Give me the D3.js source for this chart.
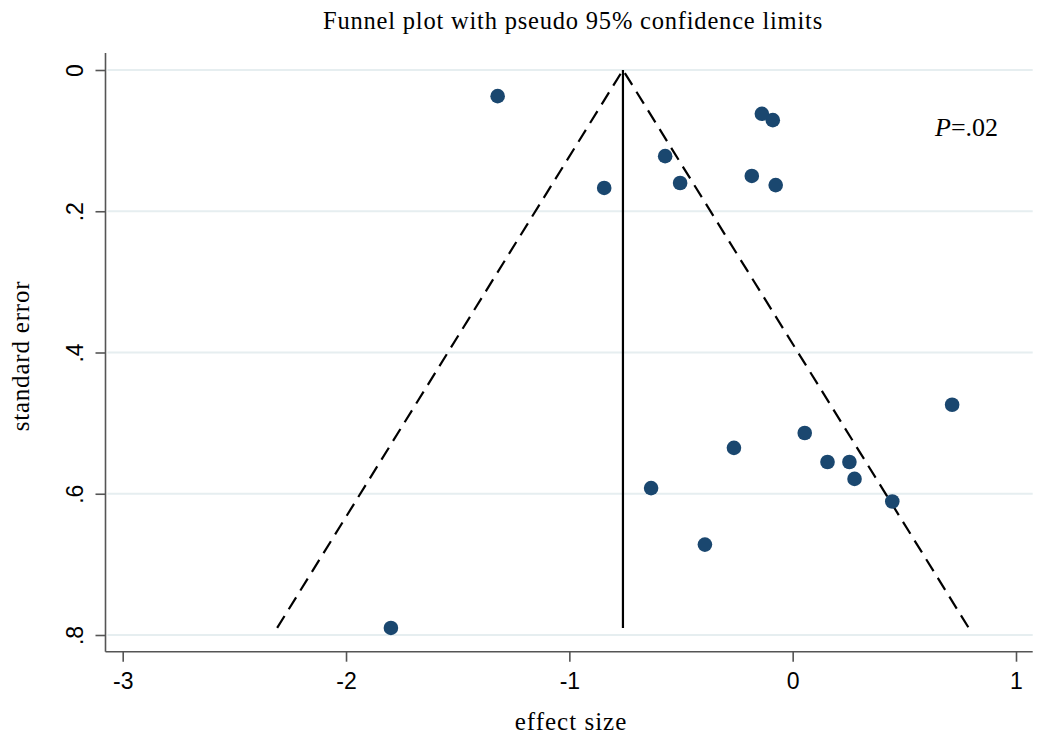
<!DOCTYPE html>
<html><head><meta charset="utf-8">
<script src="https://cdn.jsdelivr.net/npm/d3@7"></script>
<style>body{margin:0;background:#fff;}</style>
</head><body>
<svg id="c" width="1050" height="742"></svg>
<script>
const effectSize = [-1.321,-0.138,-0.089,-0.571,-0.844,-0.504,-0.183,-0.076,0.714,0.054,-0.263,0.156,0.254,0.277,-0.634,0.446,-0.393,-1.799];
const stdError   = [0.037,0.062,0.071,0.122,0.167,0.160,0.150,0.163,0.474,0.514,0.535,0.555,0.555,0.579,0.592,0.611,0.672,0.790];
const pooledEffect = -0.76;
const maxSE = 0.79;
const xTicks = [-3,-2,-1,0,1];
const yTicks = [0,0.2,0.4,0.6,0.8];
const yTickLabels = ["0",".2",".4",".6",".8"];
const title = "Funnel plot with pseudo 95% confidence limits";

const svg = d3.select("#c");
const L=105.5, R=1032.7, T=53, B=651.7;
const x = d3.scaleLinear().domain([-3,1]).range([122.7,1016]);
const y = d3.scaleLinear().domain([0,0.8]).range([70,635]);
const serif = "Liberation Serif, Times New Roman, serif";

// grid
svg.append("g").selectAll("line").data(yTicks).join("line")
  .attr("x1",L+2).attr("x2",R).attr("y1",d=>y(d)).attr("y2",d=>y(d))
  .attr("stroke","#e6eef0").attr("stroke-width",2);

// funnel
const lineGen = d3.line().x(d=>x(d[0])).y(d=>y(d[1]));
const z = 1.96;
svg.append("path").attr("d",lineGen([[pooledEffect - z*maxSE, maxSE],[pooledEffect,0],[pooledEffect + z*maxSE, maxSE]]))
  .attr("fill","none").attr("stroke","#000").attr("stroke-width",2.2).attr("stroke-dasharray","14,8");
svg.append("path").attr("d",lineGen([[pooledEffect,0],[pooledEffect,maxSE]]))
  .attr("fill","none").attr("stroke","#000").attr("stroke-width",2.2);

// points
svg.append("g").selectAll("circle").data(effectSize.map((e,i)=>[e,stdError[i]])).join("circle")
  .attr("cx",d=>x(d[0])).attr("cy",d=>y(d[1])).attr("r",7.3).attr("fill","#1a476f");

// axes
const axC="#555";
svg.append("line").attr("x1",L).attr("x2",L).attr("y1",T).attr("y2",B).attr("stroke",axC).attr("stroke-width",1.6);
svg.append("line").attr("x1",L).attr("x2",R).attr("y1",B).attr("y2",B).attr("stroke",axC).attr("stroke-width",1.6);
const xa = d3.axisBottom(x).tickValues(xTicks).tickSize(10).tickFormat(d3.format("d"));
const gx = svg.append("g").attr("transform",`translate(0,${B})`).call(xa);
gx.select(".domain").remove();
gx.selectAll(".tick line").attr("stroke",axC).attr("stroke-width",1.6);
gx.selectAll(".tick text").attr("font-family","Liberation Sans, Arial, sans-serif").attr("font-size",23).attr("fill","#000").attr("dy","1.05em")
  .text(d=>String(d).replace("\u2212","-"));

const ya = d3.axisLeft(y).tickValues(yTicks).tickSize(10).tickFormat((d,i)=>yTickLabels[i]);
const gy = svg.append("g").attr("transform",`translate(${L},0)`).call(ya);
gy.select(".domain").remove();
gy.selectAll(".tick line").attr("stroke",axC).attr("stroke-width",1.6);
gy.selectAll(".tick text").attr("font-family","Liberation Sans, Arial, sans-serif").attr("font-size",23).attr("fill","#000")
  .attr("x",null).attr("dy",null).attr("text-anchor","middle")
  .attr("transform","translate(-29,0) rotate(-90)").attr("dominant-baseline","middle").attr("y",0);

// titles
svg.append("text").attr("x",573).attr("y",29).attr("text-anchor","middle")
  .attr("font-family",serif).attr("font-size",24.5).attr("letter-spacing",0.8).text(title);
svg.append("text").attr("x",571).attr("y",730).attr("text-anchor","middle")
  .attr("font-family",serif).attr("font-size",25).attr("letter-spacing",1).text("effect size");
svg.append("text").attr("transform","translate(29,356) rotate(-90)").attr("text-anchor","middle")
  .attr("font-family",serif).attr("font-size",25).attr("letter-spacing",0.8).text("standard error");
const pt = svg.append("text").attr("x",935).attr("y",136)
  .attr("font-family",serif).attr("font-size",26);
pt.append("tspan").attr("font-style","italic").text("P");
pt.append("tspan").text("=.02");
</script>
</body></html>
